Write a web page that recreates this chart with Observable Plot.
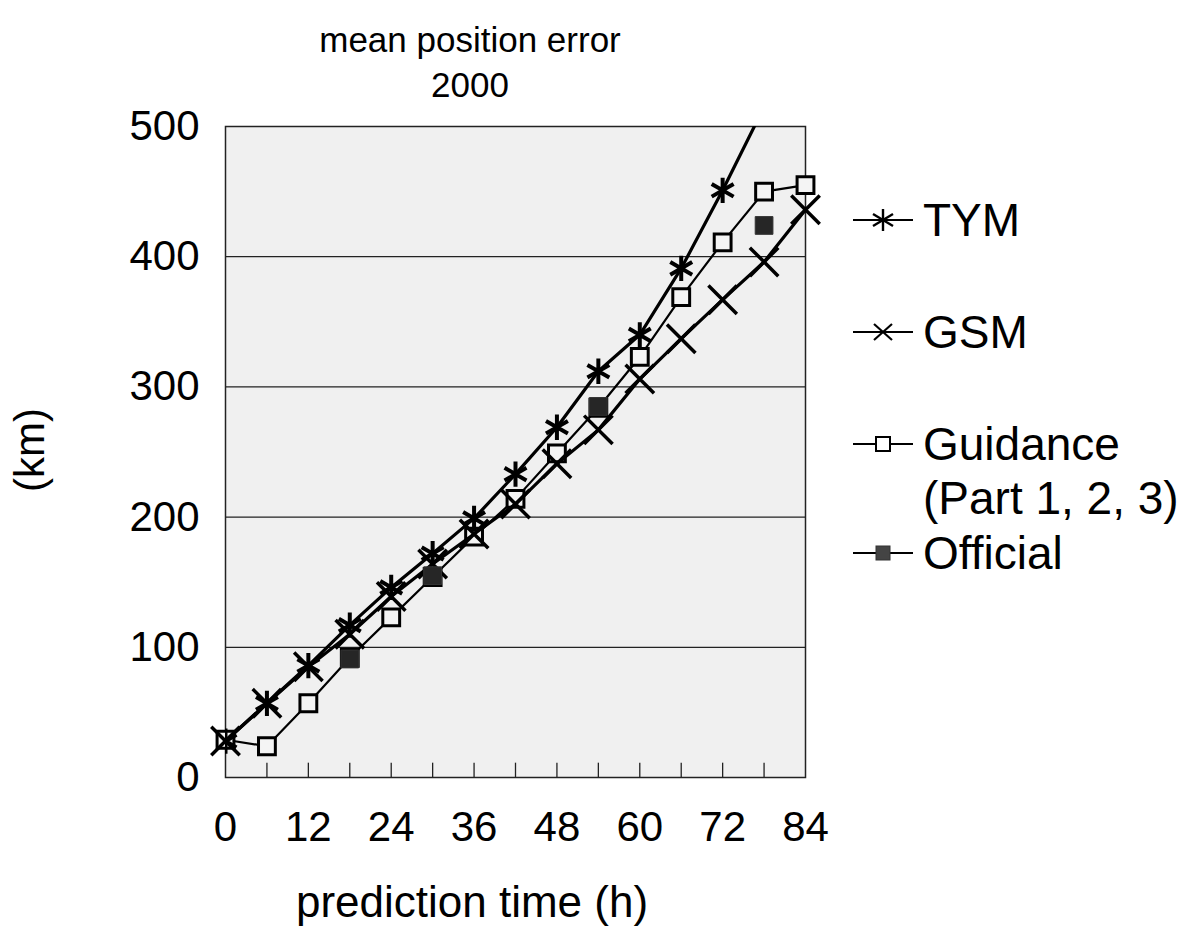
<!DOCTYPE html>
<html>
<head>
<meta charset="utf-8">
<script src="https://cdn.jsdelivr.net/npm/d3@7"></script>
<script src="https://cdn.jsdelivr.net/npm/@observablehq/plot@0.6"></script>
<style>
  html, body { margin: 0; padding: 0; background: #fff; }
  #wrap { position: relative; width: 1201px; height: 952px; font-family: "Liberation Sans", Arial, sans-serif; color: #000; }
  .lbl { position: absolute; transform: translate(-50%, -50%); white-space: nowrap; text-align: center; }
  .leg { position: absolute; display: flex; align-items: center; font-size: 46px; line-height: 50px; }
  .leg svg { margin-right: 10px; flex: none; }
  .sub { position: absolute; font-size: 46px; line-height: 50px; white-space: nowrap; }
</style>
</head>
<body>
<div id="wrap"></div>
<script>
// ---- data ----
const hours = [0, 6, 12, 18, 24, 30, 36, 42, 48, 54, 60, 66, 72, 78, 84];
const tymHours = [0, 6, 12, 18, 24, 30, 36, 42, 48, 54, 60, 66, 72, 78];
const tym = [28, 57, 86, 117, 146, 172, 199, 233, 269, 312, 340, 391, 451, 515];
const gsm = [28, 57, 85, 110, 139, 164, 187, 210, 241, 267, 306, 337, 367, 396, 436];
const guidance = [29, 24, 57, 92, 123, 154, 185, 214, 249, 284, 323, 369, 411, 450, 455];
const officialHours = [18, 30, 54, 78];
const official = [91, 155, 285, 424];
const xTickLabels = [0, 12, 24, 36, 48, 60, 72, 84];
const yTickLabels = [0, 100, 200, 300, 400, 500];
const gridValues = [100, 200, 300, 400];
const innerTicks = [6, 12, 18, 24, 30, 36, 42, 48, 54, 60, 66, 72, 78];
const seriesNames = ["TYM", "GSM", "Guidance", "Official"];

const tymData = tymHours.map((h, i) => ({h, v: tym[i]}));
const gsmData = hours.map((h, i) => ({h, v: gsm[i]}));
const guidData = hours.map((h, i) => ({h, v: guidance[i]}));
const offData = officialHours.map((h, i) => ({h, v: official[i]}));

const font = "Liberation Sans";

const chart = Plot.plot({
  width: 1201,
  height: 952,
  marginLeft: 225,
  marginRight: 396,
  marginTop: 126,
  marginBottom: 175,
  style: {fontFamily: font, background: "transparent", overflow: "visible"},
  x: {domain: [0, 84]},
  y: {domain: [0, 500]},
  marks: [
    Plot.frame({fill: "#f0f0f0", stroke: null}),
    Plot.ruleY(gridValues, {stroke: "#222", strokeWidth: 1.3}),
    Plot.ruleX(innerTicks, {y1: 0, y2: 11, stroke: "#222", strokeWidth: 1.3}),
    Plot.frame({stroke: "#222", strokeWidth: 1.5}),
    Plot.axisX({ticks: xTickLabels, tickSize: 0, tickPadding: 34, fontSize: 42, label: null}),
    Plot.axisY({ticks: yTickLabels, tickSize: 0, tickPadding: 26, fontSize: 42, label: null}),
    // Guidance
    Plot.line(guidData, {x: "h", y: "v", stroke: "#000", strokeWidth: 2.2}),
    Plot.dot(guidData, {x: "h", y: "v", symbol: "square", r: 9.5, stroke: "#000", strokeWidth: 3, fill: "#f4f4f4"}),
    // GSM
    Plot.line(gsmData, {x: "h", y: "v", stroke: "#000", strokeWidth: 3.2}),
    Plot.dot(gsmData, {x: "h", y: "v", symbol: "times", r: 13, stroke: "#000", strokeWidth: 3.5}),
    // TYM
    Plot.line(tymData, {x: "h", y: "v", stroke: "#000", strokeWidth: 3.2, clip: true}),
    Plot.dot(tymData, {x: "h", y: "v", symbol: "asterisk", r: 12, stroke: "#000", strokeWidth: 4, clip: true}),
    // Official
    Plot.dot(offData, {x: "h", y: "v", symbol: "square", r: 10, fill: "#262626", stroke: "#333", strokeWidth: 1})
  ]
});

const wrap = document.getElementById("wrap");
wrap.appendChild(chart);
chart.style.position = "absolute";
chart.style.left = "0";
chart.style.top = "0";

function addLabel(text, x, y, size, rotate) {
  const d = document.createElement("div");
  d.className = "lbl";
  d.textContent = text;
  d.style.left = x + "px";
  d.style.top = y + "px";
  d.style.fontSize = size + "px";
  d.style.lineHeight = "1.1";
  if (rotate) d.style.transform = "translate(-50%, -50%) rotate(-90deg)";
  wrap.appendChild(d);
}
addLabel("mean position error", 470, 40, 35);
addLabel("2000", 470, 85, 35);
addLabel("prediction time (h)", 472, 902, 44);
addLabel("(km)", 30, 450, 42, true);

// legend
const L = '<line x1="0" y1="15" x2="60" y2="15" stroke="#000" stroke-width="2"/>';
const symbols = {
  TYM: L + '<g stroke="#000" stroke-width="2.4"><line x1="30" y1="4" x2="30" y2="26"/><line x1="20" y1="9" x2="40" y2="21"/><line x1="20" y1="21" x2="40" y2="9"/></g>',
  GSM: L + '<g stroke="#000" stroke-width="2.2"><line x1="21" y1="7" x2="39" y2="23"/><line x1="21" y1="23" x2="39" y2="7"/></g>',
  Guidance: L + '<rect x="23" y="8" width="14" height="14" fill="#fff" stroke="#000" stroke-width="2"/>',
  Official: L + '<rect x="23" y="8" width="14" height="14" fill="#444" stroke="#333" stroke-width="1"/>'
};
const legendPos = {TYM: 220, GSM: 332, Guidance: 444, Official: 553};
seriesNames.forEach(name => {
  const row = document.createElement("div");
  row.className = "leg";
  row.style.left = "853px";
  row.style.top = (legendPos[name] - 25) + "px";
  row.innerHTML = '<svg width="60" height="30" viewBox="0 0 60 30">' + symbols[name] + '</svg><span>' + name + '</span>';
  wrap.appendChild(row);
});
const sub = document.createElement("div");
sub.className = "sub";
sub.style.left = "923px";
sub.style.top = (498 - 25) + "px";
sub.textContent = "(Part 1, 2, 3)";
wrap.appendChild(sub);
</script>
</body>
</html>
